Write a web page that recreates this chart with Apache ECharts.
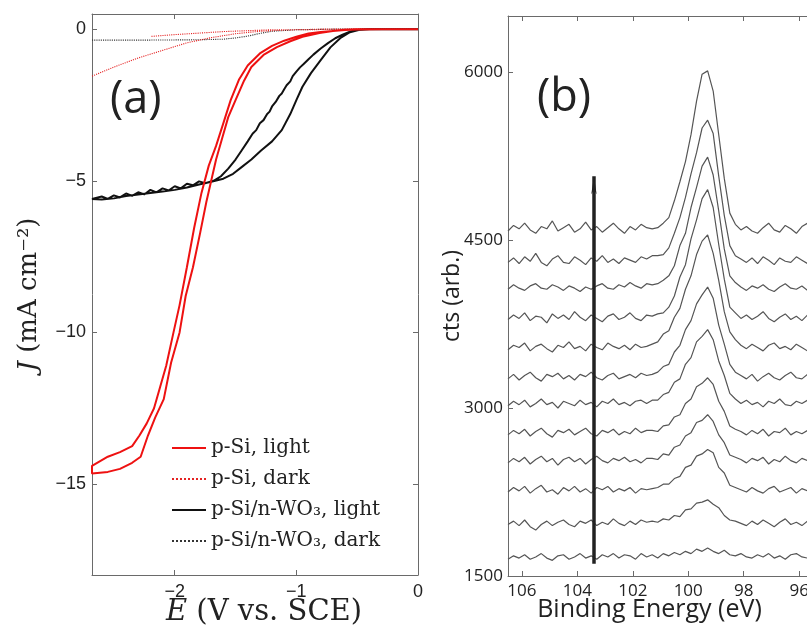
<!DOCTYPE html>
<html>
<head>
<meta charset="utf-8">
<script src="https://cdn.jsdelivr.net/npm/echarts@6/dist/echarts.min.js"></script>
<style>
  html, body { margin: 0; padding: 0; background: #fff; }
  #chart { width: 807px; height: 626px; }
</style>
</head>
<body>
<div id="chart"></div>
<script>
// ---- panel (a): J vs E, pairs of [E (V vs. SCE), J (mA cm^-2)] ----
const pSiLight = [
  [0, 0], [-0.3, 0], [-0.5, -0.01], [-0.6, -0.03], [-0.7, -0.06], [-0.8, -0.09], [-0.9, -0.14],
  [-1.0, -0.25], [-1.1, -0.38], [-1.2, -0.55], [-1.3, -0.8], [-1.4, -1.2], [-1.47, -1.65],
  [-1.54, -2.34], [-1.6, -3.1], [-1.66, -3.85], [-1.72, -4.5], [-1.78, -5.4], [-1.84, -6.55],
  [-1.9, -7.85], [-1.96, -9.1], [-2.01, -10.0], [-2.07, -11.1], [-2.12, -11.8], [-2.17, -12.5],
  [-2.23, -13.0], [-2.29, -13.4], [-2.35, -13.75], [-2.45, -13.95], [-2.55, -14.1], [-2.68, -14.4],
  [-2.68, -14.65], [-2.55, -14.6], [-2.45, -14.5], [-2.35, -14.3], [-2.28, -14.1], [-2.22, -13.4],
  [-2.16, -12.8], [-2.09, -12.2], [-2.03, -11.0], [-1.96, -10.0], [-1.91, -8.8], [-1.85, -7.85],
  [-1.79, -6.7], [-1.74, -5.7], [-1.7, -5.0], [-1.66, -4.3], [-1.61, -3.6], [-1.56, -2.9],
  [-1.5, -2.34], [-1.43, -1.7], [-1.37, -1.25], [-1.27, -0.85], [-1.16, -0.59], [-1.05, -0.4],
  [-0.95, -0.25], [-0.81, -0.13], [-0.7, -0.06], [-0.6, -0.02], [-0.5, 0], [0, 0]
];
const pSiDark = [
  [-2.68, -1.55], [-2.5, -1.25], [-2.3, -0.95], [-2.1, -0.7], [-1.9, -0.45], [-1.7, -0.28],
  [-1.5, -0.15], [-1.3, -0.07], [-1.1, -0.03], [-0.8, 0], [0, 0],
  [-1.2, -0.02], [-1.6, -0.08], [-2.0, -0.18], [-2.2, -0.24]
];
const wo3Light = [
  [0, 0], [-0.4, 0], [-0.5, -0.03], [-0.56, -0.08], [-0.62, -0.18], [-0.68, -0.3], [-0.74, -0.46],
  [-0.8, -0.64], [-0.86, -0.84], [-0.9, -0.99], [-0.94, -1.15], [-0.97, -1.26], [-1.0, -1.4],
  [-1.03, -1.55], [-1.05, -1.72], [-1.08, -1.85], [-1.1, -1.98], [-1.12, -2.12], [-1.14, -2.2],
  [-1.17, -2.4], [-1.2, -2.55], [-1.22, -2.72], [-1.24, -2.8], [-1.27, -3.0], [-1.3, -3.1],
  [-1.33, -3.33], [-1.36, -3.45], [-1.4, -3.7], [-1.45, -4.0], [-1.5, -4.3], [-1.56, -4.6],
  [-1.62, -4.85], [-1.68, -5.0], [-1.75, -5.08], [-1.8, -5.02], [-1.85, -5.15], [-1.9, -5.1],
  [-1.95, -5.25], [-2.0, -5.18], [-2.05, -5.32], [-2.1, -5.25], [-2.15, -5.38], [-2.2, -5.3],
  [-2.25, -5.45], [-2.3, -5.38], [-2.35, -5.5], [-2.4, -5.42], [-2.45, -5.55], [-2.5, -5.48],
  [-2.55, -5.6], [-2.6, -5.52], [-2.68, -5.6],
  [-2.68, -5.65], [-2.6, -5.62], [-2.5, -5.58], [-2.4, -5.5], [-2.3, -5.45], [-2.2, -5.4],
  [-2.1, -5.35], [-2.0, -5.3], [-1.9, -5.22], [-1.8, -5.12], [-1.7, -5.03], [-1.6, -4.93],
  [-1.52, -4.77], [-1.45, -4.55], [-1.37, -4.3], [-1.29, -4.0], [-1.2, -3.7], [-1.12, -3.33],
  [-1.05, -2.8], [-1.0, -2.34], [-0.95, -1.9], [-0.88, -1.45], [-0.8, -1.02], [-0.72, -0.6],
  [-0.64, -0.3], [-0.56, -0.1], [-0.48, -0.02], [-0.41, 0], [0, 0]
];
const wo3Dark = [
  [-2.68, -0.36], [-2.2, -0.36], [-1.8, -0.35], [-1.6, -0.33], [-1.5, -0.29], [-1.4, -0.23],
  [-1.3, -0.14], [-1.2, -0.07], [-1.0, -0.02], [-0.7, 0], [0, 0]
];
const eTicks = [-2, -1, 0];
const jTicks = [-15, -10, -5, 0];

// ---- panel (b): stacked XPS spectra, counts vs binding energy ----
const bindingEnergy = [
  106.5, 106.3, 106.1, 105.9, 105.7, 105.5, 105.3, 105.1, 104.9, 104.7, 104.5, 104.3, 104.1, 103.9,
  103.7, 103.5, 103.3, 103.1, 102.9, 102.7, 102.5, 102.3, 102.1, 101.9, 101.7, 101.5, 101.3, 101.1,
  100.9, 100.7, 100.5, 100.3, 100.1, 99.9, 99.7, 99.5, 99.3, 99.1, 98.9, 98.7, 98.5, 98.3,
  98.1, 97.9, 97.7, 97.5, 97.3, 97.1, 96.9, 96.7, 96.5, 96.3, 96.1, 95.9, 95.7, 95.5
];
const cts1 = [1650, 1680, 1660, 1690, 1650, 1670, 1700, 1660, 1640, 1680, 1690, 1650, 1670, 1700, 1660, 1680, 1650, 1690, 1670, 1700, 1660, 1690, 1680, 1650, 1700, 1670, 1690, 1660, 1700, 1680, 1710, 1690, 1720, 1700, 1740, 1720, 1750, 1720, 1700, 1730, 1690, 1680, 1700, 1670, 1660, 1690, 1670, 1700, 1660, 1680, 1650, 1690, 1700, 1670, 1660, 1690];
const cts2 = [1960, 1990, 1950, 2000, 1940, 1910, 1960, 1990, 1950, 1980, 2000, 1960, 1940, 1990, 1970, 2000, 1950, 1980, 1960, 2010, 1970, 1950, 1990, 1960, 2000, 1980, 1990, 1980, 2010, 2000, 2040, 2030, 2090, 2100, 2150, 2160, 2180, 2140, 2110, 2040, 2000, 1990, 1970, 1950, 1990, 1960, 2000, 1970, 1940, 1980, 2010, 1960, 1980, 1950, 1990, 1970];
const cts3 = [2250, 2290, 2260, 2300, 2240, 2280, 2310, 2250, 2270, 2230, 2290, 2260, 2300, 2250, 2280, 2240, 2290, 2270, 2300, 2250, 2280, 2260, 2290, 2240, 2280, 2270, 2280, 2290, 2320, 2320, 2370, 2390, 2470, 2490, 2570, 2590, 2630, 2600, 2470, 2420, 2310, 2290, 2270, 2250, 2290, 2260, 2240, 2280, 2300, 2250, 2270, 2290, 2240, 2280, 2260, 2290];
const cts4 = [2510, 2550, 2520, 2560, 2500, 2540, 2570, 2520, 2550, 2490, 2540, 2560, 2520, 2550, 2500, 2540, 2570, 2530, 2510, 2550, 2530, 2560, 2520, 2540, 2510, 2550, 2550, 2540, 2590, 2580, 2650, 2670, 2750, 2780, 2870, 2890, 2940, 2880, 2760, 2690, 2580, 2560, 2540, 2510, 2550, 2530, 2560, 2500, 2540, 2520, 2570, 2530, 2510, 2550, 2530, 2560];
const cts5 = [2760, 2800, 2770, 2810, 2750, 2790, 2820, 2770, 2740, 2800, 2780, 2810, 2760, 2790, 2820, 2770, 2750, 2800, 2780, 2810, 2760, 2790, 2770, 2820, 2780, 2800, 2800, 2790, 2840, 2850, 2920, 2940, 3040, 3080, 3190, 3220, 3270, 3210, 3060, 2970, 2840, 2810, 2790, 2760, 2800, 2770, 2810, 2750, 2790, 2780, 2820, 2760, 2790, 2770, 2800, 2780];
const cts6 = [3020, 3060, 3030, 3070, 3010, 3040, 3080, 3030, 3050, 3000, 3060, 3040, 3020, 3070, 3030, 3050, 3010, 3060, 3040, 3080, 3030, 3050, 3020, 3060, 3070, 3040, 3070, 3070, 3120, 3140, 3230, 3260, 3390, 3450, 3590, 3640, 3700, 3610, 3420, 3290, 3130, 3080, 3040, 3070, 3030, 3050, 3010, 3060, 3040, 3080, 3030, 3020, 3060, 3040, 3070, 3030];
const cts7 = [3260, 3300, 3250, 3290, 3320, 3270, 3240, 3300, 3280, 3310, 3260, 3290, 3250, 3300, 3280, 3320, 3270, 3250, 3290, 3310, 3260, 3280, 3300, 3270, 3310, 3290, 3300, 3320, 3370, 3390, 3500, 3560, 3700, 3780, 3930, 4010, 4080, 3980, 3740, 3570, 3390, 3320, 3290, 3260, 3300, 3240, 3280, 3310, 3270, 3250, 3290, 3320, 3270, 3260, 3300, 3280];
const cts8 = [3520, 3560, 3540, 3580, 3510, 3550, 3570, 3530, 3500, 3560, 3540, 3590, 3530, 3550, 3510, 3570, 3540, 3520, 3580, 3550, 3530, 3560, 3520, 3570, 3540, 3550, 3570, 3590, 3660, 3690, 3810, 3890, 4060, 4180, 4370, 4490, 4545, 4380, 4140, 3860, 3680, 3610, 3560, 3530, 3570, 3540, 3510, 3560, 3580, 3530, 3550, 3520, 3570, 3540, 3510, 3560];
const cts9 = [3790, 3830, 3800, 3850, 3780, 3820, 3810, 3760, 3840, 3800, 3830, 3790, 3860, 3810, 3780, 3830, 3800, 3770, 3820, 3840, 3790, 3810, 3850, 3800, 3780, 3830, 3820, 3840, 3850, 3900, 4000, 4170, 4280, 4510, 4680, 4870, 4950, 4790, 4460, 4150, 3900, 3850, 3800, 3830, 3790, 3820, 3860, 3800, 3770, 3810, 3840, 3790, 3820, 3780, 3830, 3810];
const cts10 = [4060, 4100, 4070, 4050, 4090, 4110, 4070, 4060, 4100, 4080, 4050, 4090, 4070, 4040, 4080, 4060, 4090, 4110, 4070, 4060, 4100, 4080, 4120, 4090, 4070, 4110, 4100, 4110, 4140, 4180, 4270, 4450, 4560, 4790, 4970, 5160, 5240, 5080, 4760, 4420, 4180, 4120, 4080, 4050, 4090, 4070, 4100, 4060, 4040, 4080, 4110, 4070, 4060, 4090, 4050, 4080];
const cts11 = [4300, 4340, 4290, 4350, 4310, 4380, 4300, 4270, 4330, 4360, 4300, 4290, 4350, 4320, 4280, 4340, 4310, 4360, 4300, 4330, 4290, 4340, 4320, 4300, 4350, 4330, 4360, 4360, 4370, 4430, 4560, 4700, 4880, 5090, 5280, 5500, 5570, 5450, 5070, 4720, 4450, 4360, 4330, 4300, 4340, 4290, 4350, 4320, 4280, 4340, 4310, 4300, 4350, 4320, 4290, 4340];
const cts12 = [4580, 4630, 4600, 4650, 4590, 4560, 4620, 4600, 4670, 4580, 4610, 4640, 4570, 4600, 4660, 4590, 4620, 4570, 4610, 4650, 4600, 4560, 4620, 4590, 4640, 4610, 4600, 4610, 4650, 4700, 4850, 5020, 5200, 5440, 5740, 5980, 6010, 5830, 5440, 5050, 4740, 4640, 4590, 4620, 4580, 4560, 4610, 4650, 4590, 4570, 4630, 4600, 4560, 4620, 4650, 4590];
const spectra = [cts1, cts2, cts3, cts4, cts5, cts6, cts7, cts8, cts9, cts10, cts11, cts12];
const beTicks = [96, 98, 100, 102, 104, 106];
const ctsTicks = [1500, 3000, 4500, 6000];
const arrowBE = 103.4, arrowFrom = 1610, arrowTo = 5070;

const serif = 'DejaVu Serif';
const sans = 'Open Sans';
const frame = '#6a6a6a';
const minus = v => String(v).replace('-', '\u2212');

function boxAxis(extra) {
  return Object.assign({
    type: 'value',
    nameMoveOverlap: false,
    axisLine: { show: true, onZero: false, lineStyle: { color: frame, width: 1 } },
    axisTick: { show: true, inside: true, length: 5, lineStyle: { color: frame } },
    splitLine: { show: false }
  }, extra);
}

const chart = echarts.init(document.getElementById('chart'));

const series = [
  { name: 'p-Si/n-WO\u2083, dark', data: wo3Dark, color: '#333',
    lineStyle: { color: '#333', width: 1.1, type: 'dotted' } },
  { name: 'p-Si, dark', data: pSiDark, color: '#e52222',
    lineStyle: { color: '#e52222', width: 1.1, type: 'dotted' } },
  { name: 'p-Si/n-WO\u2083, light', data: wo3Light, color: '#111',
    lineStyle: { color: '#111', width: 2 } },
  { name: 'p-Si, light', data: pSiLight, color: '#ee1111',
    lineStyle: { color: '#ee1111', width: 2 } }
].map(s => Object.assign({ type: 'line', xAxisIndex: 0, yAxisIndex: 0, symbol: 'none',
  showSymbol: false, smooth: false, z: 3 }, s));

spectra.forEach((vals, k) => {
  const s = {
    type: 'line', name: 'spectrum ' + (k + 1), xAxisIndex: 2, yAxisIndex: 2,
    symbol: 'none', showSymbol: false, silent: true,
    data: bindingEnergy.map((e, i) => [e, vals[i]]),
    lineStyle: { color: '#555', width: 1.2 }, color: '#555'
  };
  if (k === 0) {
    s.markLine = {
      silent: true, symbol: ['none', 'arrow'], symbolSize: [4, 18],
      label: { show: false },
      lineStyle: { color: '#222', width: 3.5, type: 'solid' },
      data: [[{ coord: [arrowBE, arrowFrom] }, { coord: [arrowBE, arrowTo] }]]
    };
  }
  series.push(s);
});

chart.setOption({
  animation: false,
  backgroundColor: '#fff',
  grid: [
    { left: 92, top: 14, width: 326, height: 561, outerBoundsMode: 'none', containLabel: false },
    { left: 508, top: 16, width: 305, height: 560, outerBoundsMode: 'none', containLabel: false }
  ],
  legend: {
    data: ['p-Si, light', 'p-Si, dark', 'p-Si/n-WO\u2083, light', 'p-Si/n-WO\u2083, dark'],
    orient: 'vertical', left: 166, top: 433,
    itemWidth: 34, itemHeight: 12, itemGap: 11,
    itemStyle: { opacity: 0 },
    textStyle: { fontFamily: serif, fontSize: 20, color: '#222', lineHeight: 20 }
  },
  xAxis: [
    boxAxis({ gridIndex: 0, position: 'bottom', min: -2.68, max: 0,
      name: '{i|E} (V vs. SCE)', nameLocation: 'middle', nameGap: 23,
      nameTextStyle: { fontFamily: serif, fontSize: 29, color: '#222', padding: [0, 0, 0, 18],
        verticalAlign: 'top',
        rich: { i: { fontFamily: serif, fontStyle: 'italic', fontSize: 29, color: '#222' } } },
      axisTick: { show: true, inside: true, length: 5, lineStyle: { color: frame }, customValues: eTicks },
      axisLabel: { customValues: eTicks, formatter: minus, fontFamily: 'Liberation Sans',
        fontSize: 18, color: '#222', margin: 8 } }),
    boxAxis({ gridIndex: 0, position: 'top', min: -2.68, max: 0,
      axisTick: { show: true, inside: true, length: 5, lineStyle: { color: frame }, customValues: eTicks },
      axisLabel: { show: false } }),
    boxAxis({ gridIndex: 1, position: 'bottom', min: 95.5, max: 106.5, inverse: true,
      name: 'Binding Energy (eV)', nameLocation: 'middle', nameGap: 21,
      nameTextStyle: { fontFamily: sans, fontSize: 25, color: '#222', padding: [0, 22, 0, 0],
        verticalAlign: 'top' },
      axisTick: { show: true, inside: true, length: 5, lineStyle: { color: frame }, customValues: beTicks },
      axisLabel: { customValues: beTicks, fontFamily: sans, fontSize: 17, color: '#222', margin: 7 } }),
    boxAxis({ gridIndex: 1, position: 'top', min: 95.5, max: 106.5, inverse: true,
      axisTick: { show: true, inside: true, length: 5, lineStyle: { color: frame }, customValues: beTicks },
      axisLabel: { show: false } })
  ],
  yAxis: [
    boxAxis({ gridIndex: 0, position: 'left', min: -18, max: 0.5,
      name: '{i|J} (mA cm\u207B\u00B2)', nameLocation: 'middle', nameRotate: 90, nameGap: 50,
      nameTextStyle: { fontFamily: serif, fontSize: 26, color: '#222',
        rich: { i: { fontFamily: serif, fontStyle: 'italic', fontSize: 26, color: '#222' } } },
      axisTick: { show: true, inside: true, length: 5, lineStyle: { color: frame }, customValues: jTicks },
      axisLabel: { customValues: jTicks, formatter: minus, fontFamily: 'Liberation Sans',
        fontSize: 18, color: '#222', margin: 6 } }),
    boxAxis({ gridIndex: 0, position: 'right', min: -18, max: 0.5,
      axisTick: { show: true, inside: true, length: 5, lineStyle: { color: frame }, customValues: jTicks },
      axisLabel: { show: false } }),
    boxAxis({ gridIndex: 1, position: 'left', min: 1500, max: 6500,
      name: 'cts (arb.)', nameLocation: 'middle', nameRotate: 90, nameGap: 44,
      nameTextStyle: { fontFamily: sans, fontSize: 23, color: '#222' },
      axisTick: { show: true, inside: true, length: 5, lineStyle: { color: frame }, customValues: ctsTicks },
      axisLabel: { customValues: ctsTicks, formatter: v => String(v), fontFamily: sans,
        fontSize: 17, color: '#222', margin: 5 } })
  ],
  graphic: [
    { type: 'text', left: 110, top: 78, style: { text: '(a)', fontFamily: sans, fontSize: 45, fill: '#222' } },
    { type: 'text', left: 537, top: 76, style: { text: '(b)', fontFamily: sans, fontSize: 45, fill: '#222' } }
  ],
  series: series
});
</script>
</body>
</html>
